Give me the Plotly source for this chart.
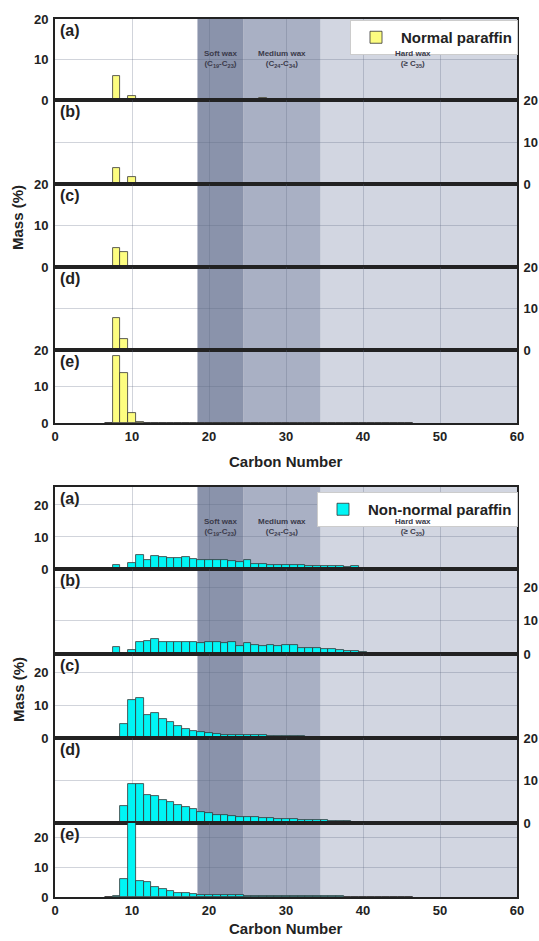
import plotly.graph_objects as go

# ---------------- data ----------------
carbon = list(range(7, 47))  # C7 .. C46

def series(d):
    return [d.get(c, 0) for c in carbon]

normal_a = series({8: 6.0, 10: 1.1, 26: 0.3, 27: 0.4, 28: 0.3, 29: 0.3, 30: 0.3, 31: 0.3, 32: 0.3})
normal_b = series({8: 3.9, 10: 1.7, 17: 0.2})
normal_c = series({8: 4.6, 9: 3.6, 11: 0.3})
normal_d = series({8: 7.8, 9: 2.7, 11: 0.2})
normal_e = series({8: 18.4, 9: 13.7, 10: 2.7, 11: 0.2})

nonnormal_a = series({8: 1.2, 10: 1.8, 11: 4.5, 12: 2.9, 13: 4.2, 14: 3.7, 15: 3.4, 16: 3.4, 17: 3.7,
                      18: 3.1, 19: 2.9, 20: 2.9, 21: 2.9, 22: 2.8, 23: 2.4, 24: 2.2, 25: 2.7, 26: 1.5,
                      27: 1.5, 28: 1.4, 29: 1.4, 30: 1.3, 31: 1.2, 32: 1.1, 33: 1.0, 34: 1.0, 35: 0.9,
                      36: 0.8, 37: 0.8, 38: 0.7, 39: 0.8})
nonnormal_b = series({8: 2.1, 10: 1.2, 11: 3.5, 12: 3.8, 13: 4.5, 14: 3.7, 15: 3.6, 16: 3.6, 17: 3.6,
                      18: 3.5, 19: 3.4, 20: 3.5, 21: 3.6, 22: 3.2, 23: 3.5, 24: 2.4, 25: 3.3, 26: 2.6,
                      27: 2.3, 28: 2.8, 29: 2.4, 30: 2.6, 31: 2.7, 32: 1.8, 33: 1.7, 34: 1.7, 35: 1.5,
                      36: 1.4, 37: 1.2, 38: 1.0, 39: 0.9, 40: 0.5, 41: 0.4, 42: 0.3, 43: 0.3, 44: 0.2,
                      45: 0.2, 46: 0.2})
nonnormal_c = series({9: 4.3, 10: 11.7, 11: 12.4, 12: 7.0, 13: 7.7, 14: 5.8, 15: 4.9, 16: 3.8, 17: 2.9,
                      18: 2.1, 19: 1.7, 20: 1.4, 21: 1.2, 22: 1.0, 23: 1.0, 24: 0.9, 25: 1.0, 26: 0.8,
                      27: 0.9, 28: 0.7, 29: 0.6, 30: 0.6, 31: 0.5, 32: 0.5, 33: 0.4, 34: 0.4, 35: 0.4,
                      36: 0.3, 37: 0.3, 38: 0.2, 39: 0.2, 40: 0.2})
nonnormal_d = series({8: 0.2, 9: 4.0, 10: 9.2, 11: 9.2, 12: 6.6, 13: 6.4, 14: 5.4, 15: 5.0, 16: 4.2,
                      17: 3.8, 18: 3.3, 19: 2.6, 20: 2.3, 21: 2.0, 22: 1.8, 23: 1.6, 24: 1.5, 25: 1.4,
                      26: 1.3, 27: 1.2, 28: 1.1, 29: 1.0, 30: 0.9, 31: 0.9, 32: 0.8, 33: 0.7, 34: 0.6,
                      35: 0.6, 36: 0.5, 37: 0.4, 38: 0.4, 39: 0.3, 40: 0.3, 41: 0.2, 42: 0.2, 43: 0.2})
nonnormal_e = series({8: 0.2, 9: 6.0, 10: 28.0, 11: 5.3, 12: 5.0, 13: 3.3, 14: 2.6, 15: 2.0, 16: 1.5,
                      17: 1.2, 18: 1.0, 19: 0.8, 20: 0.8, 21: 0.7, 22: 0.7, 23: 0.6, 24: 0.6, 25: 0.5,
                      26: 0.5, 27: 0.5, 28: 0.4, 29: 0.4, 30: 0.4, 31: 0.3, 32: 0.3, 33: 0.3, 34: 0.2,
                      35: 0.2, 36: 0.2, 37: 0.2})

panel_letters = ["(a)", "(b)", "(c)", "(d)", "(e)"]
x_ticks = [0, 10, 20, 30, 40, 50, 60]
y_ticks = [0, 10, 20]
wax_labels = ["Soft wax<br>(C<sub>19</sub>-C<sub>23</sub>)",
              "Medium wax<br>(C<sub>24</sub>-C<sub>34</sub>)",
              "Hard wax<br>(≥ C<sub>35</sub>)"]
wax_label_x = [21.5, 29.5, 46.5]
wax_bands = [(18.5, 24.5), (24.5, 34.5), (34.5, 60)]
wax_colors = ["#8a93ab", "#a9b0c4", "#d2d6e1"]

# ---------------- layout geometry ----------------
W, H = 539, 941

def px_x(px):
    return px / W

def py(px):
    return 1 - px / H

x_dom = [px_x(55), px_x(517)]
top_edges = [19, 100, 184, 267, 350, 423]
bot_edges = [487, 569, 654, 738, 823, 897]
top_ranges = [20, 20, 20, 20, 20]
bot_ranges = [25.6, 25.4, 25.8, 20, 24.7]

groups = [
    (top_edges, top_ranges, [normal_a, normal_b, normal_c, normal_d, normal_e],
     "#fdfd80", "Normal paraffin", "legend"),
    (bot_edges, bot_ranges, [nonnormal_a, nonnormal_b, nonnormal_c, nonnormal_d, nonnormal_e],
     "#00f5f5", "Non-normal paraffin", "legend2"),
]

FONT = "Arial, Liberation Sans, sans-serif"
fig = go.Figure()
layout = dict(width=W, height=H, margin=dict(l=0, r=0, t=0, b=0, pad=0, autoexpand=False),
              paper_bgcolor="white", plot_bgcolor="rgba(0,0,0,0)",
              font=dict(family=FONT, color="#222"), bargap=0, barmode="overlay")
annotations = []
shapes = []
grid_col = "rgba(90,100,125,0.28)"

for g, (edges, ranges, data, color, name, leg) in enumerate(groups):
    # wax bands
    for (x0, x1), c in zip(wax_bands, wax_colors):
        shapes.append(dict(type="rect", xref=f"x{g*5+1}", yref="paper", x0=x0, x1=x1,
                           y0=py(edges[-1]), y1=py(edges[0]), fillcolor=c,
                           line=dict(width=0), layer="below"))
    for k in range(5):
        i = g * 5 + k + 1
        xa = f"xaxis{i}"
        ya = f"yaxis{i}"
        layout[xa] = dict(domain=x_dom, range=[0, 60], anchor=f"y{i}", automargin=False,
                          tickvals=x_ticks, showticklabels=(k == 4), ticks="",
                          tickfont=dict(size=13, weight="bold", color="#222"),
                          showgrid=True, gridcolor=grid_col, gridwidth=1,
                          showline=True, linecolor="#222", linewidth=2, mirror=True,
                          zeroline=False)
        if k != 0:
            layout[xa]["matches"] = f"x{g*5+1}"
        layout[ya] = dict(domain=[py(edges[k + 1]), py(edges[k])], range=[0, ranges[k]],
                          anchor=f"x{i}", side=("left" if k % 2 == 0 else "right"),
                          automargin=False,
                          tickvals=y_ticks, ticks="", ticklabelstandoff=2,
                          tickfont=dict(size=13, weight="bold", color="#222"),
                          showgrid=True, gridcolor=grid_col, gridwidth=1,
                          showline=True, linecolor="#222", linewidth=2, mirror=True,
                          zeroline=False)
        fig.add_trace(go.Bar(x=carbon, y=data[k], width=1.0, xaxis=f"x{i}", yaxis=f"y{i}",
                             marker=dict(color=color, line=dict(color="#333333", width=0.8)),
                             name=name, showlegend=(k == 0), legend=leg))
        annotations.append(dict(text=f"<b>{panel_letters[k]}</b>", xref="paper", yref="paper",
                                x=px_x(58), y=py(edges[k] + 1), xanchor="left", yanchor="top",
                                showarrow=False, font=dict(size=16, color="#222")))
    # wax text labels
    ylab = edges[0] + 40
    for t, xx in zip(wax_labels, wax_label_x):
        annotations.append(dict(text=f"<b>{t}</b>", xref=f"x{g*5+1}", yref="paper", x=xx,
                                y=py(ylab), xanchor="center", yanchor="middle",
                                showarrow=False, font=dict(size=8, color="#3a3a4a"),
                                align="center"))
    # axis titles
    annotations.append(dict(text="<b>Carbon Number</b>", xref="paper", yref="paper",
                            x=px_x(286), y=py(edges[-1] + (38 if g == 0 else 31)),
                            xanchor="center", yanchor="middle", showarrow=False,
                            font=dict(size=15, color="#222")))
    annotations.append(dict(text="<b>Mass (%)</b>", xref="paper", yref="paper",
                            x=px_x(18), y=py(218 if g == 0 else 690), xanchor="center",
                            yanchor="middle", showarrow=False,
                            textangle=-90, font=dict(size=15, color="#222")))

layout["legend"] = dict(x=px_x(518), y=py(20), xanchor="right", yanchor="top",
                        bgcolor="white", bordercolor="#cccccc", borderwidth=1,
                        font=dict(size=15, weight="bold", color="#222"),
                        itemwidth=40, tracegroupgap=0)
layout["legend2"] = dict(x=px_x(518), y=py(492), xanchor="right", yanchor="top",
                         bgcolor="white", bordercolor="#cccccc", borderwidth=1,
                         font=dict(size=15, weight="bold", color="#222"),
                         itemwidth=40, tracegroupgap=0)
layout["annotations"] = annotations
layout["shapes"] = shapes
fig.update_layout(**layout)
fig.write_html("out.html",
               config={"displayModeBar": False},
               post_script="document.body.style.margin='0';document.body.style.overflow='hidden';")
